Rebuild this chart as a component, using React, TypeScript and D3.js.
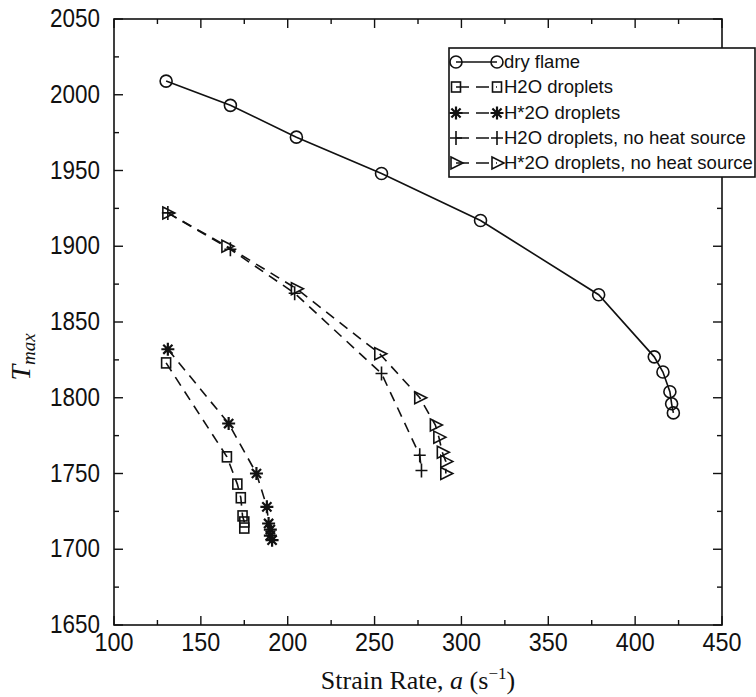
import React from "react";
import * as d3 from "d3";

const dryX = [130, 167, 205, 254, 311, 379, 411, 416, 420, 421, 422];
const dryY = [2009, 1993, 1972, 1948, 1917, 1868, 1827, 1817, 1804, 1796, 1790];

const h2oX = [130, 165, 171, 173, 174, 175, 175];
const h2oY = [1823, 1761, 1743, 1734, 1722, 1718, 1714];

const hstarX = [131, 166, 182, 188, 189, 190, 190, 191];
const hstarY = [1832, 1783, 1750, 1728, 1717, 1713, 1709, 1706];

const plusX = [131, 167, 204, 254, 276, 277];
const plusY = [1922, 1898, 1869, 1816, 1762, 1752];

const triX = [131, 165, 205, 253, 276, 285, 287, 289, 291, 291];
const triY = [1922, 1900, 1872, 1829, 1800, 1782, 1774, 1764, 1758, 1750];

const xTicks = [100, 150, 200, 250, 300, 350, 400, 450];
const yTicks = [1650, 1700, 1750, 1800, 1850, 1900, 1950, 2000, 2050];
const minorX = [125, 175, 225, 275, 325, 375, 425];
const minorY = [1675, 1725, 1775, 1825, 1875, 1925, 1975, 2025];

const seriesNames = [
  "dry flame",
  "H2O droplets",
  "H*2O droplets",
  "H2O droplets, no heat source",
  "H*2O droplets, no heat source",
];

const L = 114, R = 722, T = 19, B = 625;
const x = d3.scaleLinear().domain([100, 450]).range([L, R]);
const y = d3.scaleLinear().domain([1650, 2050]).range([B, T]);

type Kind = "circle" | "square" | "star" | "plus" | "tri";

function Marker({ kind, cx, cy }: { kind: Kind; cx: number; cy: number }) {
  const s = { stroke: "#111", strokeWidth: 1.6, fill: "none" } as const;
  if (kind === "circle") return <circle cx={cx} cy={cy} r={6} {...s} />;
  if (kind === "square") return <rect x={cx - 4.5} y={cy - 5} width={9} height={10} {...s} />;
  if (kind === "plus")
    return <path d={`M${cx - 6},${cy}H${cx + 6}M${cx},${cy - 7}V${cy + 7}`} {...s} />;
  if (kind === "tri")
    return <path d={`M${cx - 5},${cy - 6}L${cx + 7},${cy}L${cx - 5},${cy + 6}Z`} {...s} />;
  const r = 6.5;
  let d = "";
  for (let i = 0; i < 4; i++) {
    const a = (i * Math.PI) / 4;
    d += `M${cx - r * Math.cos(a)},${cy - r * Math.sin(a)}L${cx + r * Math.cos(a)},${cy + r * Math.sin(a)}`;
  }
  return <path d={d} stroke="#111" strokeWidth={2.2} fill="none" />;
}

const series: { xs: number[]; ys: number[]; kind: Kind; dash?: string }[] = [
  { xs: dryX, ys: dryY, kind: "circle" },
  { xs: h2oX, ys: h2oY, kind: "square", dash: "10,7" },
  { xs: hstarX, ys: hstarY, kind: "star", dash: "10,7" },
  { xs: plusX, ys: plusY, kind: "plus", dash: "10,7" },
  { xs: triX, ys: triY, kind: "tri", dash: "10,7" },
];

export default function App() {
  const line = d3.line<[number, number]>().x((d) => x(d[0])).y((d) => y(d[1]));
  const sans = "'Liberation Sans', Arial, Helvetica, sans-serif";
  const serif = "'Liberation Serif', 'Times New Roman', serif";
  const legX = 449, legY = 48, legW = 306, legH = 129;
  const rowY = [62, 87, 113, 138, 163];
  return (
    <svg
      width={756}
      height={697}
      style={{ position: "absolute", left: 0, top: 0, background: "#fff" }}
    >
      <rect x={0} y={0} width={756} height={697} fill="#fff" />
      {/* frame */}
      <rect x={L} y={T} width={R - L} height={B - T} fill="none" stroke="#111" strokeWidth={1.6} />
      {/* ticks */}
      {xTicks.map((t) => (
        <g key={"xt" + t}>
          <line x1={x(t)} x2={x(t)} y1={B} y2={B - 9} stroke="#111" strokeWidth={1.4} />
          <line x1={x(t)} x2={x(t)} y1={T} y2={T + 9} stroke="#111" strokeWidth={1.4} />
          <text
            x={x(t)}
            y={651}
            textAnchor="middle"
            fontFamily={sans}
            fontSize={25}
            textLength={39}
            lengthAdjust="spacingAndGlyphs"
            fill="#111"
          >
            {t}
          </text>
        </g>
      ))}
      {minorX.map((t) => (
        <g key={"xm" + t}>
          <line x1={x(t)} x2={x(t)} y1={B} y2={B - 5} stroke="#111" strokeWidth={1.4} />
          <line x1={x(t)} x2={x(t)} y1={T} y2={T + 5} stroke="#111" strokeWidth={1.4} />
        </g>
      ))}
      {yTicks.map((t) => (
        <g key={"yt" + t}>
          <line x1={L} x2={L + 9} y1={y(t)} y2={y(t)} stroke="#111" strokeWidth={1.4} />
          <line x1={R} x2={R - 9} y1={y(t)} y2={y(t)} stroke="#111" strokeWidth={1.4} />
          <text
            x={100}
            y={y(t) + 8}
            textAnchor="end"
            fontFamily={sans}
            fontSize={25}
            textLength={50}
            lengthAdjust="spacingAndGlyphs"
            fill="#111"
          >
            {t}
          </text>
        </g>
      ))}
      {minorY.map((t) => (
        <g key={"ym" + t}>
          <line x1={L} x2={L + 5} y1={y(t)} y2={y(t)} stroke="#111" strokeWidth={1.4} />
          <line x1={R} x2={R - 5} y1={y(t)} y2={y(t)} stroke="#111" strokeWidth={1.4} />
        </g>
      ))}
      {/* series */}
      {series.map((s, i) => {
        const pts = s.xs.map((v, j) => [v, s.ys[j]] as [number, number]);
        return (
          <g key={"s" + i}>
            <path
              d={line(pts) || ""}
              fill="none"
              stroke="#111"
              strokeWidth={1.6}
              strokeDasharray={s.dash}
            />
            {pts.map((p, j) => (
              <Marker key={j} kind={s.kind} cx={x(p[0])} cy={y(p[1])} />
            ))}
          </g>
        );
      })}
      {/* legend */}
      <rect x={legX} y={legY} width={legW} height={legH} fill="#fff" stroke="#111" strokeWidth={1.6} />
      {series.map((s, i) => (
        <g key={"l" + i}>
          <line
            x1={456}
            x2={497}
            y1={rowY[i]}
            y2={rowY[i]}
            stroke="#111"
            strokeWidth={1.6}
            strokeDasharray={s.dash ? "13,7" : undefined}
          />
          <Marker kind={s.kind} cx={456} cy={rowY[i]} />
          <Marker kind={s.kind} cx={497} cy={rowY[i]} />
          <text
            x={504}
            y={rowY[i] + 6}
            fontFamily={sans}
            fontSize={18.5}
            fill="#111"
          >
            {seriesNames[i]}
          </text>
        </g>
      ))}
      {/* axis titles */}
      <text x={418} y={689} textAnchor="middle" fontFamily={serif} fontSize={26} fill="#111">
        Strain Rate, <tspan fontStyle="italic">a</tspan> (s
        <tspan dy={-10} fontSize={17}>−1</tspan>
        <tspan dy={10}>)</tspan>
      </text>
      <g transform="translate(30,357) rotate(-90)">
        <text textAnchor="middle" fontFamily={serif} fontSize={28} fontStyle="italic" fill="#111">
          T<tspan dy={5} fontSize={19}>max</tspan>
        </text>
      </g>
    </svg>
  );
}
